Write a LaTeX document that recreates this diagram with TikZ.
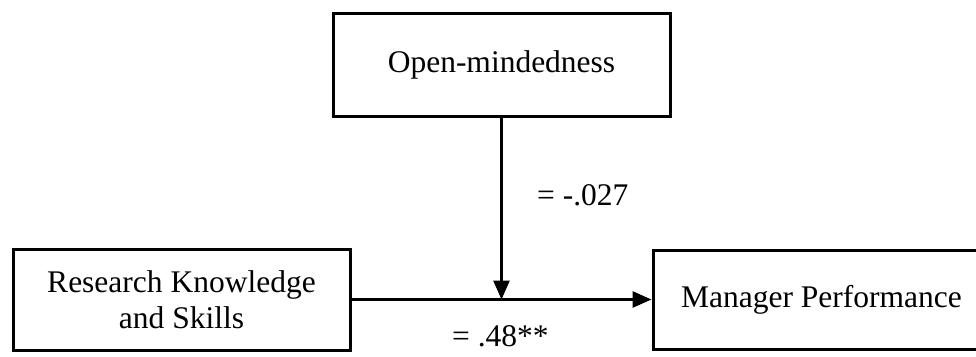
\documentclass[tikz,border=0pt]{standalone}
\usepackage{fontspec}
\setmainfont{Liberation Serif}
\usetikzlibrary{arrows.meta}
\begin{document}
\begin{tikzpicture}[x=1pt,y=1pt,
  box/.style={draw, line width=3pt, minimum width=337pt, align=center, inner sep=0pt,
    font=\fontsize{31.5}{36}\selectfont},
  conn/.style={line width=2.6pt, -{Triangle[length=19pt,width=16pt]}},
  lbl/.style={font=\fontsize{31.5}{36}\selectfont, inner sep=0pt}]
\useasboundingbox (0,0) rectangle (976,-356);
\node[box, minimum height=103pt] (om) at (501.5,-64.5) {Open-mindedness};
\node[box, minimum height=101pt] (rk) at (181.5,-299.5) {Research Knowledge\\and Skills};
\node[box, minimum height=99pt] (mp) at (821.5,-299.5) {Manager Performance};
\coordinate (j) at (om.south |- rk.east);
\draw[conn] (rk.east) -- (mp.west);
\draw[conn] (om.south) -- (j);
\node[lbl, anchor=west] (b1) at (537,-195) {= -.027};
\node[lbl, anchor=base west] (b2) at (452,-346) {= .48**};
\end{tikzpicture}
\end{document}
